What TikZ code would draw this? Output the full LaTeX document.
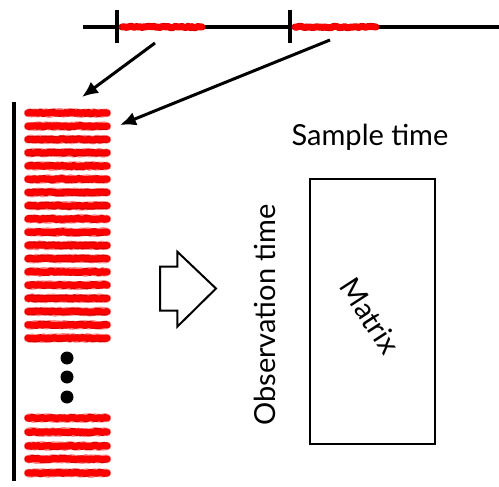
\documentclass[tikz,border=0pt]{standalone}
\usepackage{fontspec}
\setmainfont{Lato}
\usetikzlibrary{arrows.meta,decorations.pathmorphing}
\tikzset{
  axisline/.style={line width=3.2pt,black},
  redhalo/.style={line width=8.5pt,red!45,line join=round,line cap=round,decorate,decoration={random steps,segment length=2pt,amplitude=0.8pt}},
  redbar/.style={line width=7pt,red!85!black,line join=round,line cap=round,decorate,decoration={random steps,segment length=2pt,amplitude=0.7pt}},
  redcore/.style={line width=5.5pt,red},
  maparrow/.style={line width=3pt,-{Latex[length=16pt,width=14pt]}},
  lbl/.style={font=\fontsize{29}{34}\selectfont,inner sep=0pt},
}
\begin{document}
\pgfmathsetseed{7}
\begin{tikzpicture}[x=1pt,y=-1pt]
\useasboundingbox (0,0) rectangle (499,487);
% top time axis
\draw[axisline] (83,27) -- (499,27);
\draw[axisline] (117,10) -- (117,43);
\draw[axisline] (290,10) -- (290,43);
\draw[redbar] (122,27) -- (202,27);
\draw[redcore] (121,27) -- (203,27);
\draw[redbar] (295,27) -- (376,27);
\draw[redcore] (294,27) -- (377,27);
\coordinate (s1) at (155,43);
\coordinate (s2) at (330,40);
% left stack
\draw[axisline] (14,102) -- (14,481);
\foreach \i in {0,...,17} {
  \pgfmathsetmacro{\yy}{113+13.24*\i}
  \draw[redhalo] (28,\yy) -- (107,\yy);
  \draw[redbar] (28,\yy) -- (107,\yy);
  \draw[redcore] (26,\yy) -- (109,\yy);
}
\foreach \yy in {418,432,446,459,473} {
  \draw[redhalo] (28,\yy) -- (107,\yy);
  \draw[redbar] (28,\yy) -- (107,\yy);
  \draw[redcore] (26,\yy) -- (109,\yy);
}
\coordinate (t1) at (82,97);
\coordinate (t2) at (120,125);
\node[circle,fill=black,inner sep=0pt,minimum size=13pt] (d1) at (67,358) {};
\node[circle,fill=black,inner sep=0pt,minimum size=13pt] (d2) at (67,377) {};
\node[circle,fill=black,inner sep=0pt,minimum size=13pt] (d3) at (67,397) {};
\draw[maparrow] (s1) -- (t1);
\draw[maparrow] (s2) -- (t2);
% hollow block arrow
\draw[line width=2pt,line join=miter] (160,266.7) -- (177.3,266.7) -- (177.3,251.7) -- (216,288.5) -- (177.3,326.7) -- (177.3,310.7) -- (160,310.7) -- cycle;
% matrix
\node[draw,line width=2.2pt,minimum width=125pt,minimum height=264.7pt,inner sep=0pt] (mat) at (372.5,311.6) {};
\node[lbl] (mlabel) at (370,316) [rotate=-57] {Matrix};
\node[lbl] (st) at (370,137) {Sample time};
\node[lbl] (ot) at (265,315) [rotate=90] {Observation time};
\end{tikzpicture}
\end{document}
